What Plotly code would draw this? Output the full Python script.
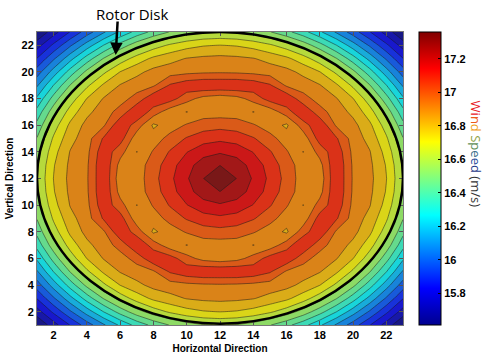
import plotly.graph_objects as go

# ---------------- data ----------------
# Grid positions (rotor plane, grid indices)
x_positions = list(range(1, 24))
y_positions = list(range(1, 24))
center_index = 12

# Wind speed (m/s) for one quadrant of the symmetric field:
# row k = vertical offset k from the centre, column = horizontal offset 0..11
speed_offset_0 = [17.360, 17.271, 17.174, 17.077, 16.980, 16.877, 16.868, 17.090, 16.912, 16.860, 16.750, 16.577]
speed_offset_1 = [17.271, 17.231, 17.151, 17.061, 16.968, 16.876, 16.891, 17.090, 16.909, 16.854, 16.741, 16.567]
speed_offset_2 = [17.174, 17.151, 17.094, 17.018, 16.932, 16.833, 16.956, 17.070, 16.899, 16.840, 16.716, 16.538]
speed_offset_3 = [17.077, 17.061, 17.018, 16.955, 16.877, 16.869, 17.050, 17.020, 16.884, 16.806, 16.674, 16.490]
speed_offset_4 = [16.980, 16.968, 16.932, 16.877, 16.820, 16.970, 17.080, 16.909, 16.863, 16.767, 16.617, 16.424]
speed_offset_5 = [16.877, 16.876, 16.833, 16.869, 16.970, 17.090, 16.955, 16.881, 16.812, 16.699, 16.538, 16.341]
speed_offset_6 = [16.868, 16.891, 16.956, 17.050, 17.080, 16.955, 16.887, 16.840, 16.750, 16.609, 16.433, 16.238]
speed_offset_7 = [17.090, 17.090, 17.070, 17.020, 16.909, 16.881, 16.840, 16.761, 16.641, 16.490, 16.312, 16.122]
speed_offset_8 = [16.912, 16.909, 16.899, 16.884, 16.863, 16.812, 16.750, 16.641, 16.509, 16.350, 16.175, 16.004]
speed_offset_9 = [16.860, 16.854, 16.840, 16.806, 16.767, 16.699, 16.609, 16.490, 16.350, 16.193, 16.035, 15.877]
speed_offset_10 = [16.750, 16.741, 16.716, 16.674, 16.617, 16.538, 16.433, 16.312, 16.175, 16.035, 15.892, 15.747]
speed_offset_11 = [16.577, 16.567, 16.538, 16.490, 16.424, 16.341, 16.238, 16.122, 16.004, 15.877, 15.747, 15.610]

speed_min, speed_max = 15.61, 17.36
colorbar_tickvals = [15.8, 16.0, 16.2, 16.4, 16.6, 16.8, 17.0, 17.2]
colorbar_ticktext = ["15.8", "16", "16.2", "16.4", "16.6", "16.8", "17", "17.2"]
axis_tickvals = [2, 4, 6, 8, 10, 12, 14, 16, 18, 20, 22]

# ---------------- build the full grid by mirroring the quadrant ----------------
quadrant = [speed_offset_0, speed_offset_1, speed_offset_2, speed_offset_3,
            speed_offset_4, speed_offset_5, speed_offset_6, speed_offset_7,
            speed_offset_8, speed_offset_9, speed_offset_10, speed_offset_11]
z = [[quadrant[abs(yv - center_index)][abs(xv - center_index)] for xv in x_positions]
     for yv in y_positions]

# ---------------- colours ----------------
jet_stops = [(0.0, (0, 0, 143)), (0.125, (0, 0, 255)), (0.375, (0, 255, 255)),
             (0.625, (255, 255, 0)), (0.875, (255, 0, 0)), (1.0, (128, 0, 0))]
jet = [[p, "rgb(%d,%d,%d)" % c] for p, c in jet_stops]
muted = [[p, "rgb(%d,%d,%d)" % tuple(round(v * 0.76 + 24) for v in c)] for p, c in jet_stops]

fig = go.Figure()
fig.add_trace(go.Contour(
    x=x_positions, y=y_positions, z=z,
    colorscale=muted, zmin=speed_min - 0.02, zmax=speed_max - 0.02, showscale=False,
    contours=dict(start=15.6975, end=17.2725, size=0.0875, coloring="fill"),
    line=dict(color="rgba(25,25,25,0.85)", width=0.6, smoothing=0),
    hoverinfo="skip",
))
# colour bar (bright jet)
fig.add_trace(go.Scatter(
    x=[None], y=[None], mode="markers", showlegend=False,
    marker=dict(color=[speed_min], cmin=speed_min, cmax=speed_max, colorscale=jet,
                showscale=True,
                colorbar=dict(x=1.0437, xanchor="left", xpad=0, y=0.5, yanchor="middle",
                              len=1, lenmode="fraction", ypad=0, thickness=22,
                              outlinewidth=1, outlinecolor="black",
                              tickvals=colorbar_tickvals, ticktext=colorbar_ticktext,
                              ticks="inside", ticklen=3, tickcolor="black",
                              tickfont=dict(family="Liberation Sans", size=11, color="black",
                                            weight="bold"))),
))

# rotor disk
fig.add_shape(type="circle", xref="x", yref="y", x0=1, x1=23, y0=1.1, y1=23,
              line=dict(color="black", width=2.5), layer="above")

axis_common = dict(
    tickvals=axis_tickvals, ticks="inside", ticklen=4, tickcolor="#555",
    showline=True, linecolor="#777", linewidth=1, mirror="ticks",
    showgrid=False, zeroline=False, automargin=False,
    tickfont=dict(family="Liberation Sans", size=11, color="black", weight="bold"),
)
fig.update_xaxes(range=[1, 23], title=dict(text="Horizontal Direction", standoff=4,
                 font=dict(family="Liberation Sans", size=10, color="black", weight="bold")),
                 **axis_common)
fig.update_yaxes(range=[1, 23], title=dict(text="Vertical Direction", standoff=6,
                 font=dict(family="Liberation Sans", size=10, color="black", weight="bold")),
                 **axis_common)

title_html = ("<span style='color:#e8201e'>W</span><span style='color:#e8201e'>i</span>"
              "<span style='color:#ec5a17'>n</span><span style='color:#efa01a'>d</span> "
              "<span style='color:#8aa040'>S</span><span style='color:#5f8f5a'>p</span>"
              "<span style='color:#3a6f8a'>e</span><span style='color:#2a4f9a'>e</span>"
              "<span style='color:#1f3a8a'>d</span> <span style='color:#333'>(m/s)</span>")

fig.update_layout(
    width=487, height=356,
    margin=dict(l=37, r=84, t=32, b=31, autoexpand=False),
    paper_bgcolor="white", plot_bgcolor="white",
    showlegend=False,
    annotations=[
        dict(text="Rotor Disk", xref="paper", yref="paper", x=0.2596, y=1.0614,
             xanchor="center", yanchor="middle",
             showarrow=False, font=dict(family="Open Sans", size=15, color="black")),
        dict(text="", xref="x", yref="y", x=5.73, y=21.27, ax=2, ay=-35,
             showarrow=True, arrowhead=2, arrowsize=1, arrowwidth=2.5, arrowcolor="black"),
        dict(text=title_html, xref="paper", yref="paper", x=1.1995, y=0.585,
             xanchor="center", yanchor="middle",
             textangle=90, showarrow=False,
             font=dict(family="Open Sans", size=13, color="black")),
    ],
)

fig.write_html("out.html", config={"displayModeBar": False},
               post_script="document.body.style.margin='0px';document.body.style.padding='0px';")
